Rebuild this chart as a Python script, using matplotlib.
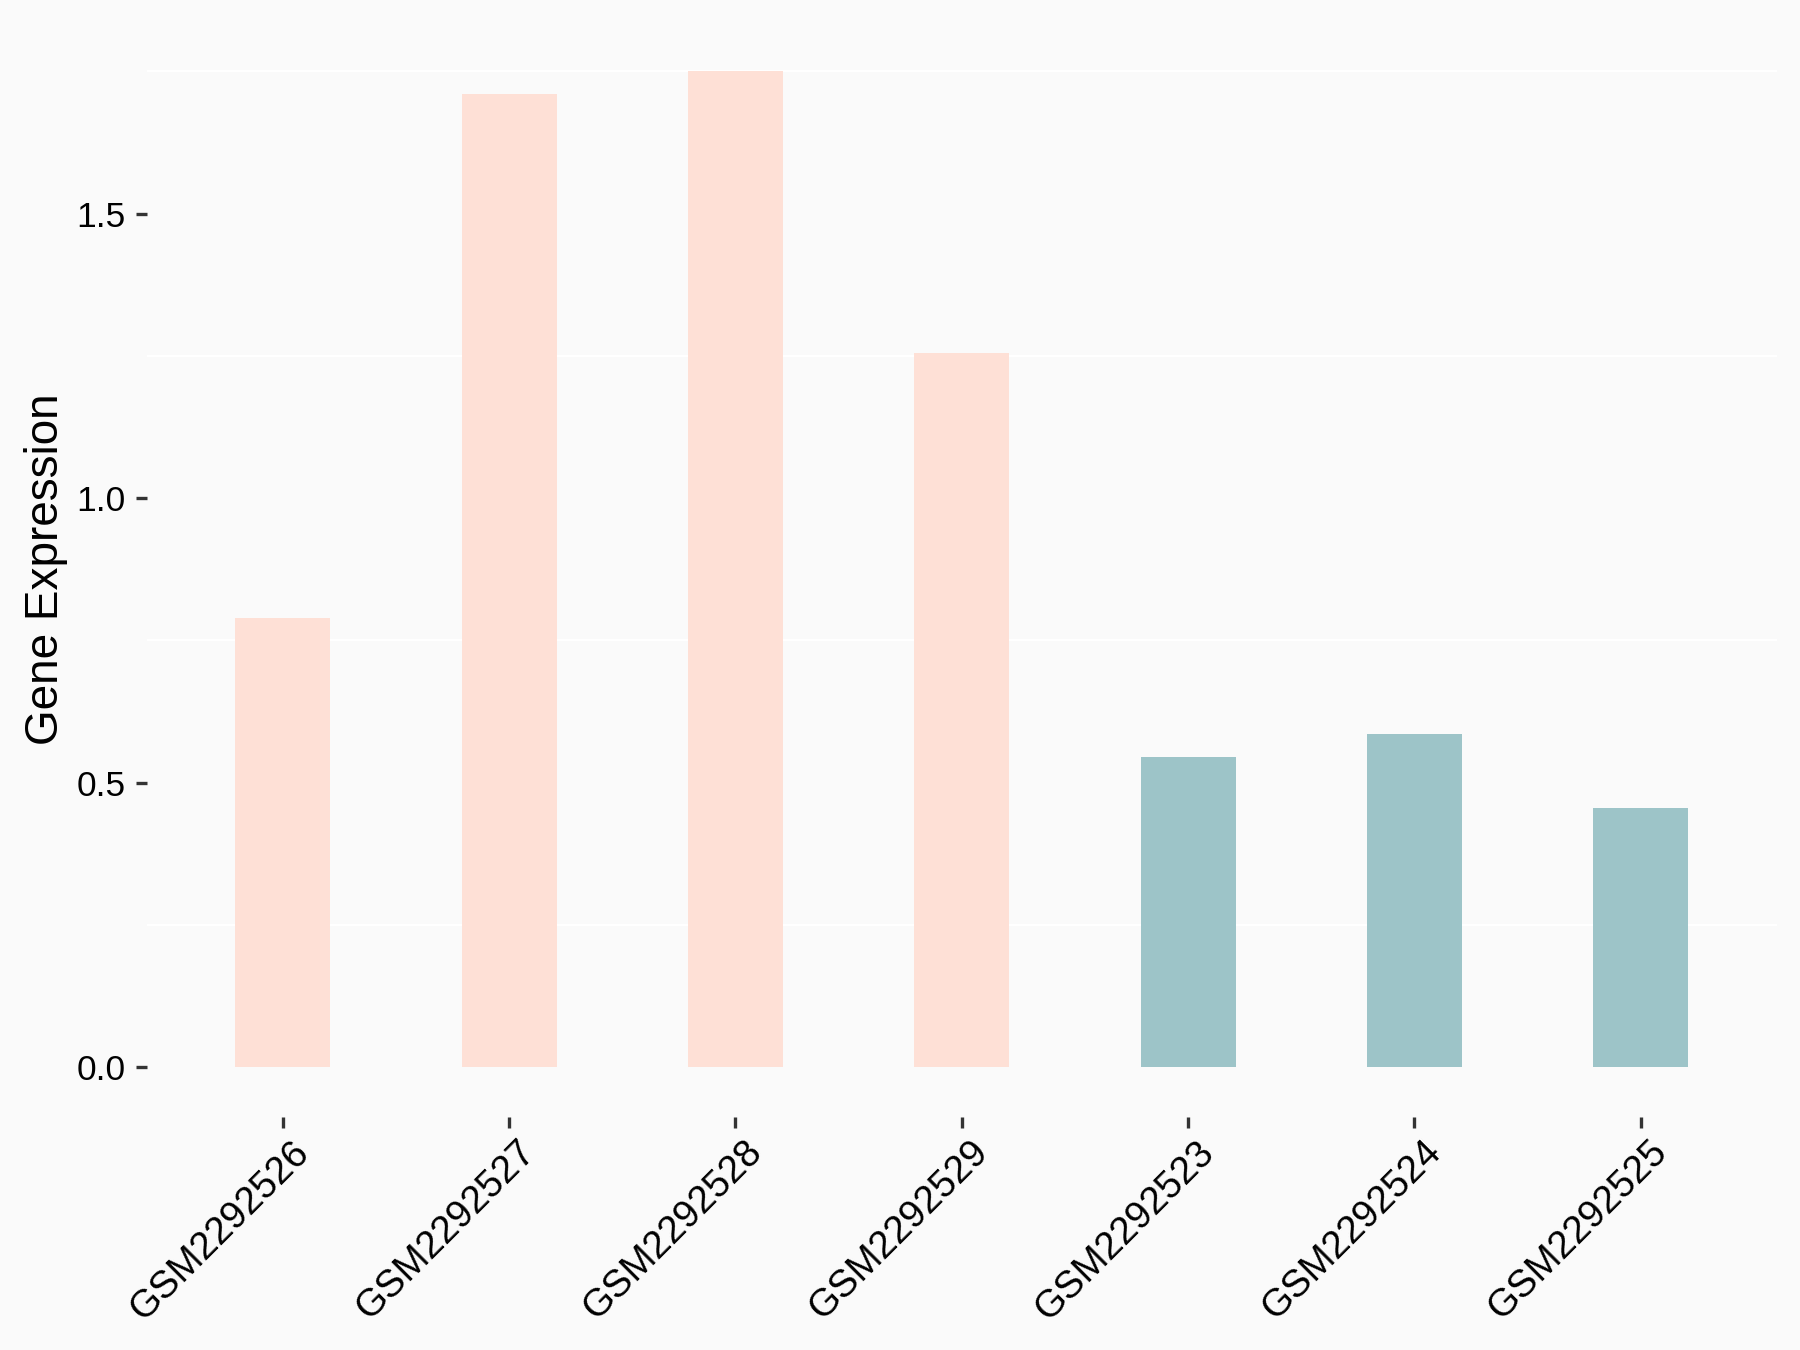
import matplotlib.pyplot as plt
import matplotlib.transforms as mtransforms
from matplotlib.ticker import MultipleLocator

plt.rcParams['font.family'] = ['Liberation Sans', 'DejaVu Sans']

# data
samples = ['GSM2292526', 'GSM2292527', 'GSM2292528', 'GSM2292529',
           'GSM2292523', 'GSM2292524', 'GSM2292525']
expression = [0.79, 1.71, 1.75, 1.255, 0.546, 0.586, 0.456]
groups = ['a', 'a', 'a', 'a', 'b', 'b', 'b']
group_colors = {'a': '#FEE0D6', 'b': '#9DC4C8'}

bg = '#FAFAFA'

fig = plt.figure(figsize=(12, 9), dpi=150, facecolor=bg)
ax = fig.add_axes([0.0816, 0.1726, 0.9054, 0.8114], facecolor=bg)

pos = list(range(1, len(samples) + 1))
ax.bar(pos, expression, width=0.42, color=[group_colors[g] for g in groups],
       zorder=3)

ax.set_xlim(0.4, len(samples) + 0.6)
ax.set_ylim(-0.0875, 1.8375)

ax.yaxis.set_major_locator(MultipleLocator(0.5))
ax.yaxis.set_minor_locator(MultipleLocator(0.25))
ax.grid(which='minor', axis='y', color='white', linewidth=1.0, zorder=1)
ax.tick_params(axis='y', which='minor', length=0)

for s in ax.spines.values():
    s.set_visible(False)

ax.set_xticks(pos)
ax.set_xticklabels(samples, rotation=45, ha='right', va='top',
                   rotation_mode='anchor', fontsize=18.5, color='black')
ax.tick_params(axis='x', which='major', length=5.3, width=1.6,
               color='#333333', pad=3)
ax.tick_params(axis='y', which='major', length=5.3, width=1.6,
               color='#333333', pad=5, labelsize=17, labelcolor='black')
ax.set_yticks([0.0, 0.5, 1.0, 1.5])
ax.set_yticklabels(['0.0', '0.5', '1.0', '1.5'])

# nudge the rotated labels right, like the reference
offset = mtransforms.ScaledTranslation(8 / 150, 0, fig.dpi_scale_trans)
for lab in ax.get_xticklabels():
    lab.set_transform(lab.get_transform() + offset)

ax.set_ylabel('Gene Expression', fontsize=22, labelpad=4)

fig.savefig('out.png', dpi=150, facecolor=bg)
